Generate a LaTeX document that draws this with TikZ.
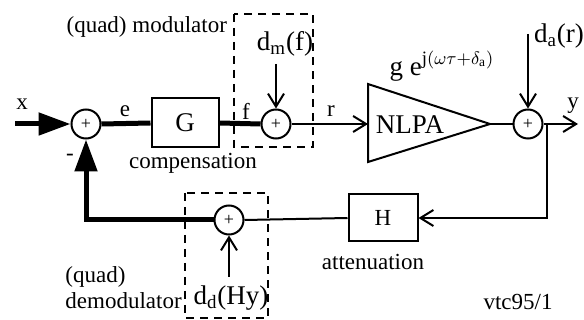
\documentclass[tikz,border=0pt]{standalone}
\usepackage{fontspec}
\setmainfont{Liberation Serif}
\usetikzlibrary{arrows.meta,positioning,calc}

\begin{document}
\begin{tikzpicture}[x=0.5pt, y=-0.5pt, >=Stealth,
    font=\fontsize{11.5}{13}\selectfont,
    sum/.style={draw, line width=1pt, circle, minimum size=14.5pt, inner sep=0pt, font=\fontsize{9}{10}\selectfont},
    blk/.style={draw, line width=1pt, inner sep=0pt},
    sig/.style={line width=1pt, -{Straight Barb[length=6.5pt,width=8pt]}},
    wire/.style={line width=1pt},
    fat/.style={line width=2.5pt},
    fatarrow/.style={line width=2.5pt, -{Triangle[length=16pt,width=11pt]}},
    dashbox/.style={line width=0.8pt, dash pattern=on 4pt off 3pt},
    big/.style={font=\fontsize{13.5}{15}\selectfont}]
  \useasboundingbox (0,0) rectangle (584,320);

  % forward path
  \coordinate (xin) at (15,124);
  \node[sum] (s1) at (86,124) {+};
  \node[blk, minimum width=33.5pt, minimum height=24.5pt, big] (G) at (185,123) {G};
  \node[sum] (s2) at (276,124) {+};
  \coordinate (pa-top) at (368,84);
  \coordinate (pa-bot) at (368,162);
  \coordinate (pa-tip) at (490,124);
  \coordinate (pa-in) at (368,124);
  \draw[line width=1pt, line join=miter] (pa-top) -- (pa-tip) -- (pa-bot) -- cycle;
  \node[big] (nlpa) at (410,125) {NLPA};
  \node[sum] (s3) at (528,124) {+};
  \coordinate (tap) at (547,124);
  \coordinate (yout) at (578,124);

  % feedback path
  \node[blk, minimum width=34.5pt, minimum height=23.5pt] (H) at (383,218) {H};
  \node[sum] (s4) at (229,220) {+};

  % disturbance inputs
  \coordinate (dm-in) at (276,64);
  \coordinate (da-in) at (528,34);
  \coordinate (dd-in) at (229,277);

  \draw[fatarrow] (xin) -- (s1.west);
  \draw[fat] (s1.east) -- (G.west);
  \draw[fat] (G.east) -- (s2.west);
  \draw[sig] (s2.east) -- (pa-in);
  \draw[wire] (pa-tip) -- (s3.west);
  \draw[sig] (s3.east) -- (yout);
  \draw[sig] (tap) |- (H.east);
  \draw[wire] (H.west) -- (s4.east);
  \draw[fatarrow] (s4.west) -| (s1.south);
  \draw[sig] (dm-in) -- (s2.north);
  \draw[sig] (da-in) -- (s3.north);
  \draw[sig] (dd-in) -- (s4.south);

  % dashed (de)modulator boxes
  \draw[dashbox] (234,14) rectangle (313,147);
  \draw[dashbox] (185,193) rectangle (268,318);

  % labels
  \node (lx) at (22,104) {x};
  \node (le) at (125,111) {e};
  \node (lf) at (246,111) {f};
  \node (lr) at (331,111) {r};
  \node (ly) at (573,106) {y};
  \node (lminus) at (70,157) {-};
  \node[big] (ldm) at (285,44) {d$_{\mathrm{m}}$(f)};
  \node[big] (lda) at (559,36) {d$_{\mathrm{a}}$(r)};
  \node[big] (ldd) at (231,298) {d$_{\mathrm{d}}$(Hy)};
  \node[big] (lgain) at (442,66) {g e$^{\mathrm{j}(\omega\tau+\delta_{\mathrm{a}})}$};
  \node (lcomp) at (193,163) {compensation};
  \node (latt) at (373,262) {attenuation};
  \node[anchor=east] (lmod) at (234,27) {(quad) modulator};
  \node[anchor=north west, align=left, inner sep=0pt] (ldemod) at (65,266) {(quad)\\demodulator};
  \node (ltag) at (518,302) {vtc95/1};
\end{tikzpicture}
\end{document}
